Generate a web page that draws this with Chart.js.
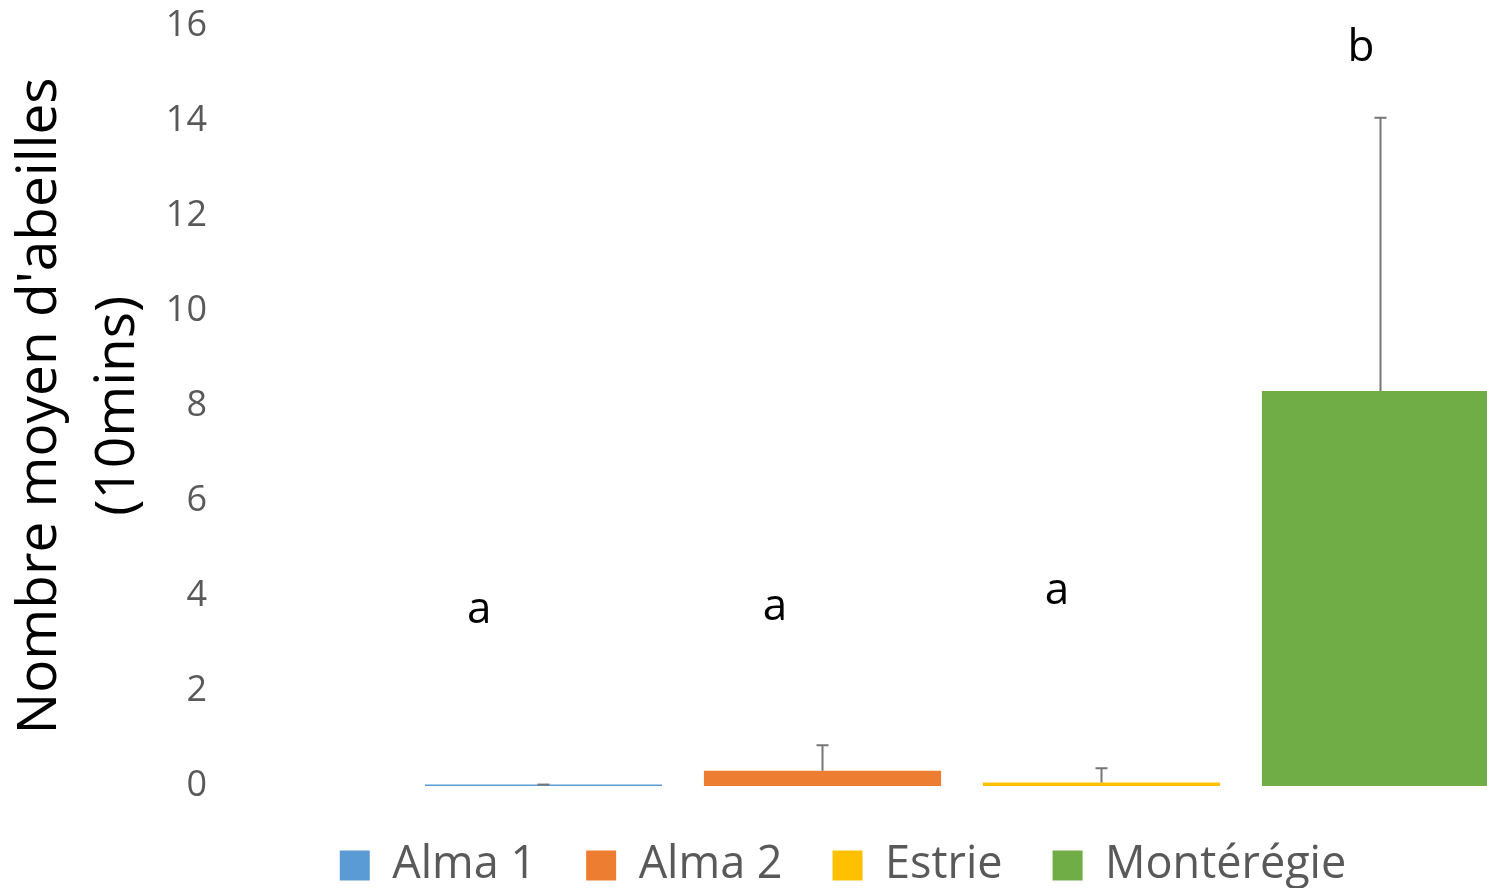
<!DOCTYPE html>
<html>
<head>
<meta charset="utf-8">
<title>Abeilles</title>
<script src="https://cdn.jsdelivr.net/npm/chart.js@4"></script>
<style>
  html, body { margin: 0; padding: 0; background: #fff; overflow: hidden; }
  #wrap { width: 1686px; height: 888px; }
</style>
</head>
<body>
<div id="wrap"><canvas id="Graph_Abeilles" width="1686" height="888"></canvas></div>
<script>
// moyenne d'abeilles par site (10 min) + erreur positive
const sites = ["Alma 1", "Alma 2", "Estrie", "Montérégie"];
const meanBees = [0.03, 0.32, 0.075, 8.31];
const errPlus = [0, 0.54, 0.30, 5.75];
const siteColours = ["#5B9BD5", "#ED7D31", "#FFC000", "#70AD47"];

// lettres de groupes statistiques
const groupLetters = ["a", "a", "a", "b"];
const letterBaseline = [3.42, 3.49, 3.84, 15.25];
const letterShift = [-0.23, -0.17, -0.16, -0.07]; // decalage / centre de la barre (en categories)

const yMin = 0, yMax = 16, yStep = 2;

const FONT = "'Open Sans', sans-serif";

var graph = null;

const errorBars = {
    id: "errorBars",
    afterDatasetsDraw(chart) {
        const ctx = chart.ctx;
        const y = chart.scales.y;
        const meta = chart.getDatasetMeta(0);
        ctx.save();
        ctx.strokeStyle = "#767676";
        ctx.lineWidth = 2;
        meta.data.forEach((bar, i) => {
            const yBase = y.getPixelForValue(meanBees[i]);
            const yTop = y.getPixelForValue(meanBees[i] + errPlus[i]);
            ctx.beginPath();
            ctx.moveTo(bar.x, yBase);
            ctx.lineTo(bar.x, yTop);
            ctx.moveTo(bar.x - 6, yTop);
            ctx.lineTo(bar.x + 6, yTop);
            ctx.stroke();
        });
        ctx.restore();
    }
};

const letters = {
    id: "letters",
    afterDraw(chart) {
        const ctx = chart.ctx;
        const x = chart.scales.x;
        const y = chart.scales.y;
        const catWidth = x.getPixelForValue(1) - x.getPixelForValue(0);
        ctx.save();
        ctx.fillStyle = "#000";
        ctx.font = "44px " + FONT;
        ctx.textAlign = "center";
        ctx.textBaseline = "alphabetic";
        groupLetters.forEach((l, i) => {
            ctx.fillText(l, x.getPixelForValue(i) + letterShift[i] * catWidth, y.getPixelForValue(letterBaseline[i]));
        });
        ctx.restore();
    }
};

// axes vides qui servent juste d'espace (entre les chiffres et les barres, et a droite)
const spacer = (w, pos, weight) => ({
    type: "linear",
    position: pos,
    weight: weight,
    grid: { display: false, drawTicks: false },
    border: { display: false },
    ticks: { display: false },
    afterFit: (scale) => { scale.width = w; }
});

const ctx = document.getElementById("Graph_Abeilles").getContext("2d");
graph = new Chart(ctx, {
    type: "bar",
    data: {
        labels: sites,
        datasets: [{
            data: meanBees,
            backgroundColor: siteColours,
            borderWidth: 0,
            categoryPercentage: 1,
            barPercentage: 0.85
        }]
    },
    options: {
        responsive: false,
        animation: false,
        devicePixelRatio: 1,
        layout: { padding: { top: 7, left: 0, right: 0, bottom: -10 } },
        scales: {
            x: {
                grid: { display: false, drawTicks: false },
                border: { display: false },
                ticks: { display: false },
                afterFit: (scale) => { scale.height = 7; }
            },
            y: {
                min: yMin,
                max: yMax,
                weight: 10,
                grid: { display: false, drawTicks: false },
                border: { display: false },
                ticks: {
                    stepSize: yStep,
                    padding: 4,
                    color: "#595959",
                    font: { family: FONT, size: 36 }
                },
                title: {
                    display: true,
                    text: ["Nombre moyen d'abeilles", "(10mins)"],
                    color: "#000",
                    font: { family: FONT, size: 55, lineHeight: 1.42 },
                    padding: { top: 1, bottom: 0 }
                },
                afterFit: (scale) => { scale.width = 211; }
            },
            yGap: spacer(193, "left", 0),
            yRight: spacer(166, "right", 0)
        },
        plugins: {
            legend: {
                position: "bottom",
                labels: {
                    boxWidth: 30,
                    boxHeight: 30,
                    padding: 50,
                    color: "#595959",
                    font: { family: FONT, size: 45 },
                    generateLabels: () => sites.map((s, i) => ({
                        text: s,
                        fillStyle: siteColours[i],
                        strokeStyle: siteColours[i],
                        lineWidth: 0,
                        fontColor: "#595959",
                        hidden: false,
                        index: i
                    }))
                }
            },
            tooltip: { enabled: false }
        }
    },
    plugins: [errorBars, letters]
});
</script>
</body>
</html>
